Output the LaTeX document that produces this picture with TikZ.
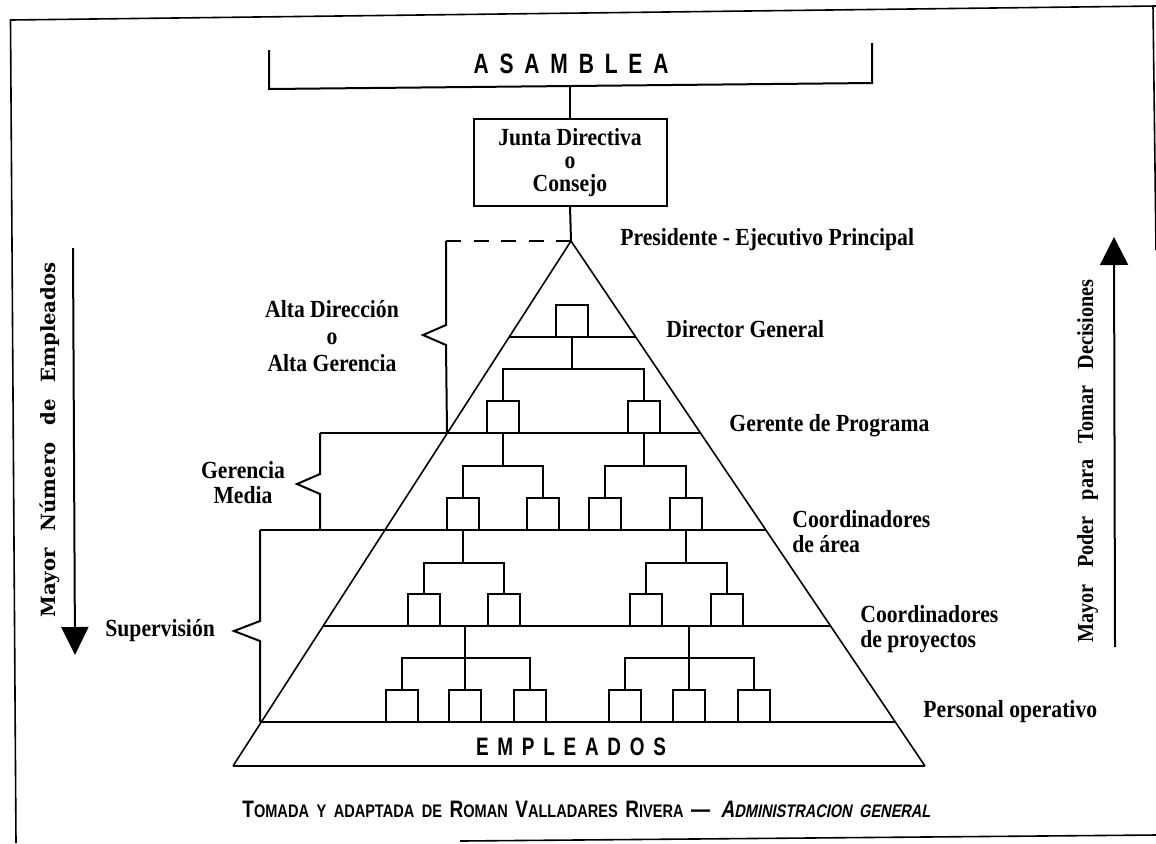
\documentclass[tikz,border=0pt]{standalone}
\usepackage{fontspec}
\setmainfont{Liberation Serif}
\newfontfamily\labf{Liberation Serif}[FakeStretch=0.88]
\newfontfamily\widef{DejaVu Serif}
\newfontfamily\sansf{Liberation Sans}[FakeStretch=0.75]
\newfontfamily\capf{Liberation Sans}[FakeStretch=0.8]
\newfontfamily\capif{Liberation Sans}[FakeStretch=0.8,FakeSlant=0.2]
\usetikzlibrary{arrows.meta}
\newcommand\vcen[2]{\vtop{\baselineskip=#1\relax\halign{\hfil##\hfil\cr#2\crcr}}}
\newcommand\vlef[2]{\vtop{\baselineskip=#1\relax\halign{##\hfil\cr#2\crcr}}}
\newcommand\BL[1]{{\fontsize{11.9}{12}\selectfont#1}}
\begin{document}
\begin{tikzpicture}[x=0.5pt,y=-0.5pt,
  ln/.style={line width=1pt},
  side/.style={line width=0.8pt},
  fr/.style={line width=0.8pt},
  bx/.style={draw,line width=1pt,minimum width=16pt,minimum height=16pt,inner sep=0pt,outer sep=0pt,anchor=south},
  lab/.style={inner sep=0pt,font=\labf\bfseries\fontsize{12.3}{14}\selectfont},
  big/.style={inner sep=0pt,font=\sansf\bfseries\fontsize{14}{16}\selectfont},
  ]
\useasboundingbox (0,0) rectangle (1156,843);

% frame
\draw[fr] (16,843) -- (10.5,20) -- (1156,6);
\draw[fr] (1153,6) -- (1156,250);
\draw[fr] (460,841) -- (1156,835);

% Asamblea
\node[big,anchor=base] (asam) at (571,73) {\hbox to 97.5pt{A\hfil S\hfil A\hfil M\hfil B\hfil L\hfil E\hfil A}};
\draw[ln] (269,50) -- (269,89) -- (872,83) -- (872,43);
\coordinate (asb) at (570,86);
\node[draw,ln,lab,minimum width=96.5pt,minimum height=43.5pt,outer sep=0pt] (junta) at (570,162.5)
  {\vcen{11.5pt}{Junta Directiva\cr o\cr Consejo}};
\draw[ln] (asb) -- (junta.north);
\coordinate (apex) at (571,241);
\draw[ln] (junta.south) -- (apex);

% pyramid
\coordinate (BL) at (233,766);
\coordinate (BR) at (925,766);
\draw[side] (BL) -- (apex) -- (BR);
\draw[ln] (BL) -- (BR);
\draw[ln] (509,337) -- (636,337);
\draw[ln] (320,433) -- (700.5,433);
\draw[ln] (260,530) -- (766,530);
\draw[ln] (323,626) -- (830.6,626);
\draw[line width=1.3pt] (260,722) -- (895.3,722);

% brackets
\draw[ln,dash pattern=on 7.5pt off 6.25pt] (446,241) -- (apex);
\draw[ln] (446,241) -- (446,325) -- (423,335) -- (446,345) -- (447,433);
\draw[ln] (320,433) -- (320,474) -- (297,484) -- (320,494) -- (320,530);
\draw[ln] (260,530) -- (260,621) -- (234,631) -- (260,641) -- (260,722);

% boxes
\node[bx] (dg) at (572,337) {};
\node[bx] (g1) at (503,433) {};
\node[bx] (g2) at (644,433) {};
\node[bx] (c1) at (463,530) {};
\node[bx] (c2) at (543,530) {};
\node[bx] (c3) at (605,530) {};
\node[bx] (c4) at (686,530) {};
\node[bx] (d1) at (424,626) {};
\node[bx] (d2) at (504,626) {};
\node[bx] (d3) at (646,626) {};
\node[bx] (d4) at (727,626) {};
\node[bx] (e1) at (402,722) {};
\node[bx] (e2) at (465,722) {};
\node[bx] (e3) at (530,722) {};
\node[bx] (e4) at (625,722) {};
\node[bx] (e5) at (689,722) {};
\node[bx] (e6) at (754,722) {};

% connectors
\draw[ln] (dg.south) -- ++(0,32) -| (g1.north);
\draw[ln] (dg.south) ++(0,32) -| (g2.north);
\draw[ln] (g1.south) -- ++(0,33) -| (c1.north);
\draw[ln] (g1.south) ++(0,33) -| (c2.north);
\draw[ln] (g2.south) -- ++(0,33) -| (c3.north);
\draw[ln] (g2.south) ++(0,33) -| (c4.north);
\draw[ln] (c1.south) -- ++(0,33) -| (d1.north);
\draw[ln] (c1.south) ++(0,33) -| (d2.north);
\draw[ln] (c4.south) -- ++(0,33) -| (d3.north);
\draw[ln] (c4.south) ++(0,33) -| (d4.north);
\coordinate (p1) at (465,626);
\coordinate (p2) at (689,626);
\draw[ln] (p1) -- (e2.north);
\draw[ln] (p1) ++(0,32) -| (e1.north);
\draw[ln] (p1) ++(0,32) -| (e3.north);
\draw[ln] (p2) -- (e5.north);
\draw[ln] (p2) ++(0,32) -| (e4.north);
\draw[ln] (p2) ++(0,32) -| (e6.north);

% labels right
\node[lab,anchor=base west] (pres) at (620,245) {Presidente - Ejecutivo Principal};
\node[lab,anchor=base west] (dgl) at (666,337) {Director General};
\node[lab,anchor=base west] (gpl) at (729,431) {Gerente de Programa};
\node[lab,anchor=base west] (cal) at (792,527) {\vlef{12.5pt}{Coordinadores\cr de área}};
\node[lab,anchor=base west] (cpl) at (860,622) {\vlef{12.5pt}{Coordinadores\cr de proyectos}};
\node[lab,anchor=base west] (pol) at (923,717) {Personal operativo};

% labels left
\node[lab,anchor=base] (adl) at (332,317) {\vcen{13.5pt}{Alta Dirección\cr o\cr Alta Gerencia}};
\node[lab,anchor=base] (gml) at (243,478) {\vcen{12.5pt}{Gerencia\cr Media}};
\node[lab,anchor=base west] (sup) at (105,636) {Supervisión};

% empleados
\node[inner sep=0pt,font=\sansf\bfseries\fontsize{12.6}{14}\selectfont,anchor=base] (emp) at (571,755)
  {\hbox to 95pt{E\hfil M\hfil P\hfil L\hfil E\hfil A\hfil D\hfil O\hfil S}};

% side arrows
\coordinate (la1) at (73,248);
\coordinate (la2) at (75,655);
\draw[ln,-{Triangle[width=13.5pt,length=14pt]}] (la1) -- (la2);
\node[rotate=90,anchor=base,inner sep=0pt,font=\widef\bfseries\fontsize{9.8}{12}\selectfont] (ltx) at (55,440)
  {\hbox to 177.5pt{Mayor\hfil Número\hfil de\hfil Empleados}};
\coordinate (ra1) at (1115,647);
\coordinate (ra2) at (1114,237);
\draw[ln,-{Triangle[width=14pt,length=14pt]}] (ra1) -- (ra2);
\node[rotate=90,anchor=base,inner sep=0pt,font=\labf\bfseries\fontsize{11.5}{12}\selectfont] (rtx) at (1093,461)
  {\hbox to 181.5pt{Mayor\hfil Poder\hfil para\hfil Tomar\hfil Decisiones}};

% caption
\node[inner sep=0pt,anchor=base west,font=\capf\bfseries\fontsize{9.1}{10}\selectfont] (cap) at (242,817)
  {\makebox[344pt][s]{\BL{T}OMADA Y ADAPTADA DE \BL{R}OMAN \BL{V}ALLADARES \BL{R}IVERA \BL{—}\hspace{1.5pt} {\capif\bfseries\BL{A}DMINISTRACION GENERAL}}};
\end{tikzpicture}
\end{document}
